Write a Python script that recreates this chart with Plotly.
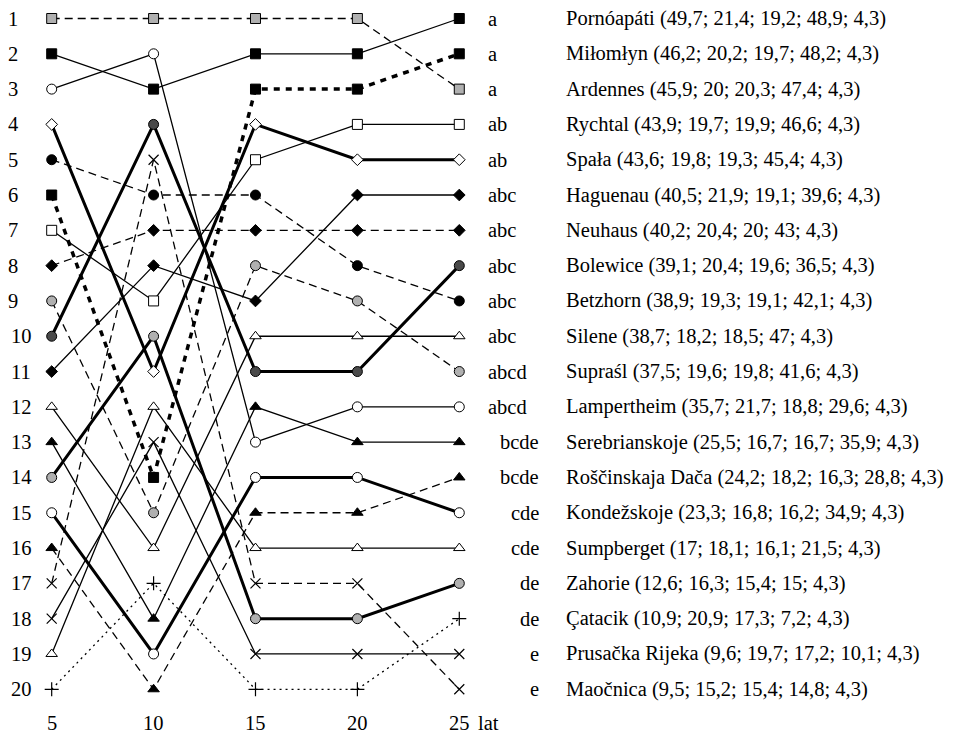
import plotly.graph_objects as go

ages = [5, 10, 15, 20, 25]
age_labels = ["5", "10", "15", "20", "25"]

names = ["Pornóapáti", "Miłomłyn", "Ardennes", "Rychtal", "Spała", "Haguenau",
         "Neuhaus", "Bolewice", "Betzhorn", "Silene", "Supraśl", "Lampertheim",
         "Serebrianskoje", "Roščinskaja Dača", "Kondežskoje", "Sumpberget",
         "Zahorie", "Çatacik", "Prusačka Rijeka", "Maočnica"]
groups = ["a", "a", "a", "ab", "ab", "abc", "abc", "abc", "abc", "abc", "abcd", "abcd",
          "bcde", "bcde", "cde", "cde", "de", "de", "e", "e"]
values = ["49,7; 21,4; 19,2; 48,9; 4,3", "46,2; 20,2; 19,7; 48,2; 4,3",
          "45,9; 20; 20,3; 47,4; 4,3", "43,9; 19,7; 19,9; 46,6; 4,3",
          "43,6; 19,8; 19,3; 45,4; 4,3", "40,5; 21,9; 19,1; 39,6; 4,3",
          "40,2; 20,4; 20; 43; 4,3", "39,1; 20,4; 19,6; 36,5; 4,3",
          "38,9; 19,3; 19,1; 42,1; 4,3", "38,7; 18,2; 18,5; 47; 4,3",
          "37,5; 19,6; 19,8; 41,6; 4,3", "35,7; 21,7; 18,8; 29,6; 4,3",
          "25,5; 16,7; 16,7; 35,9; 4,3", "24,2; 18,2; 16,3; 28,8; 4,3",
          "23,3; 16,8; 16,2; 34,9; 4,3", "17; 18,1; 16,1; 21,5; 4,3",
          "12,6; 16,3; 15,4; 15; 4,3", "10,9; 20,9; 17,3; 7,2; 4,3",
          "9,6; 19,7; 17,2; 10,1; 4,3", "9,5; 15,2; 15,4; 14,8; 4,3"]

rank_5 = [2, 6, 1, 7, 4, 11, 8, 10, 5, 12, 9, 3, 13, 16, 15, 19, 14, 20, 18, 17]
rank_10 = [3, 14, 1, 9, 11, 8, 7, 4, 6, 16, 15, 2, 18, 20, 19, 12, 10, 17, 13, 5]
rank_15 = [2, 3, 1, 5, 4, 9, 7, 11, 6, 10, 8, 13, 12, 15, 14, 16, 18, 20, 19, 17]
rank_20 = [2, 3, 1, 4, 5, 6, 7, 11, 8, 10, 9, 12, 13, 15, 14, 16, 18, 20, 19, 17]
rank_25 = list(range(1, 21))

# styles
DASH = "8px,5px"
THICK_DOT = "6px,6px"
THIN_DOT = "2px,4px"
line_styles = [
    ("solid", 1.3), (THICK_DOT, 3.5), (DASH, 1.3), ("solid", 1.3), ("solid", 3), ("solid", 1.3),
    (DASH, 1.3), ("solid", 3), (DASH, 1.3), ("solid", 1.3), (DASH, 1.3), ("solid", 1.3),
    ("solid", 1.3), (DASH, 1.3), ("solid", 3), ("solid", 1.3), ("solid", 3), (THIN_DOT, 1.3),
    ("solid", 1.3), (DASH, 1.3)]
GRAY = "#b0b0b0"
DARK = "#4a4a4a"
marker_styles = [
    ("square", "black", 10), ("square", "black", 10), ("square", GRAY, 10), ("square", "white", 10),
    ("diamond", "white", 9), ("diamond", "black", 9), ("diamond", "black", 9), ("circle", DARK, 10),
    ("circle", "black", 10), ("triangle-up", "white", 10), ("circle", GRAY, 10), ("circle", "white", 10),
    ("triangle-up", "black", 10), ("triangle-up", "black", 10), ("circle", "white", 10),
    ("triangle-up", "white", 10), ("circle", GRAY, 10), ("cross-thin", "black", 10),
    ("x-thin", "black", 10), ("x-thin", "black", 10)]

fig = go.Figure()
series_ranks = [[rank_5[i], rank_10[i], rank_15[i], rank_20[i], rank_25[i]] for i in range(len(names))]

for i, r in enumerate(series_ranks):
    dash, w = line_styles[i]
    fig.add_trace(go.Scatter(x=ages, y=r, mode="lines", showlegend=False, hoverinfo="skip",
                             line=dict(color="black", width=w, dash=dash)))
for i, r in enumerate(series_ranks):
    sym, fill, size = marker_styles[i]
    fig.add_trace(go.Scatter(x=ages, y=r, mode="markers", showlegend=False, name=names[i],
                             marker=dict(symbol=sym, color=fill, size=size,
                                         line=dict(color="black", width=1.2 if "thin" in sym else 1))))

OFF = 8  # page body margin
W = 956


def px(v):
    return (v - OFF) / W


FONT = dict(family="Liberation Serif, Times New Roman, serif", size=20.5, color="black")
ann = []
for k in range(1, 21):
    if k < 10:
        ann.append(dict(x=px(20), xref="paper", y=k, yref="y", text=str(k), showarrow=False,
                        xanchor="right", yanchor="middle", font=FONT))
    else:
        ann.append(dict(x=px(9), xref="paper", y=k, yref="y", text=str(k), showarrow=False,
                        xanchor="left", yanchor="middle", font=FONT))
for a, lab in zip(ages, age_labels):
    ann.append(dict(x=a, xref="x", y=20.95, yref="y", text=lab, showarrow=False,
                    xanchor="center", yanchor="middle", font=FONT))
ann.append(dict(x=px(476), xref="paper", y=20.95, yref="y", text="lat", showarrow=False,
                xanchor="left", yanchor="middle", font=FONT))
for i in range(len(names)):
    g = groups[i]
    if g.startswith("a"):
        ann.append(dict(x=px(486), xref="paper", y=rank_25[i], yref="y", text=g, showarrow=False,
                        xanchor="left", yanchor="middle", font=FONT))
    else:
        ann.append(dict(x=px(541), xref="paper", y=rank_25[i], yref="y", text=g, showarrow=False,
                        xanchor="right", yanchor="middle", font=FONT))
    ann.append(dict(x=px(564), xref="paper", y=rank_25[i], yref="y",
                    text=f"{names[i]} ({values[i]})", showarrow=False,
                    xanchor="left", yanchor="middle", font=FONT))

fig.update_layout(
    width=956, height=736, margin=dict(l=0, r=0, t=0, b=0),
    paper_bgcolor="white", plot_bgcolor="white",
    xaxis=dict(range=[2.856, 49.765], visible=False, fixedrange=True),
    yaxis=dict(range=[21.550, 0.7026], visible=False, fixedrange=True),
    annotations=ann,
)
fig.write_html("out.html")
